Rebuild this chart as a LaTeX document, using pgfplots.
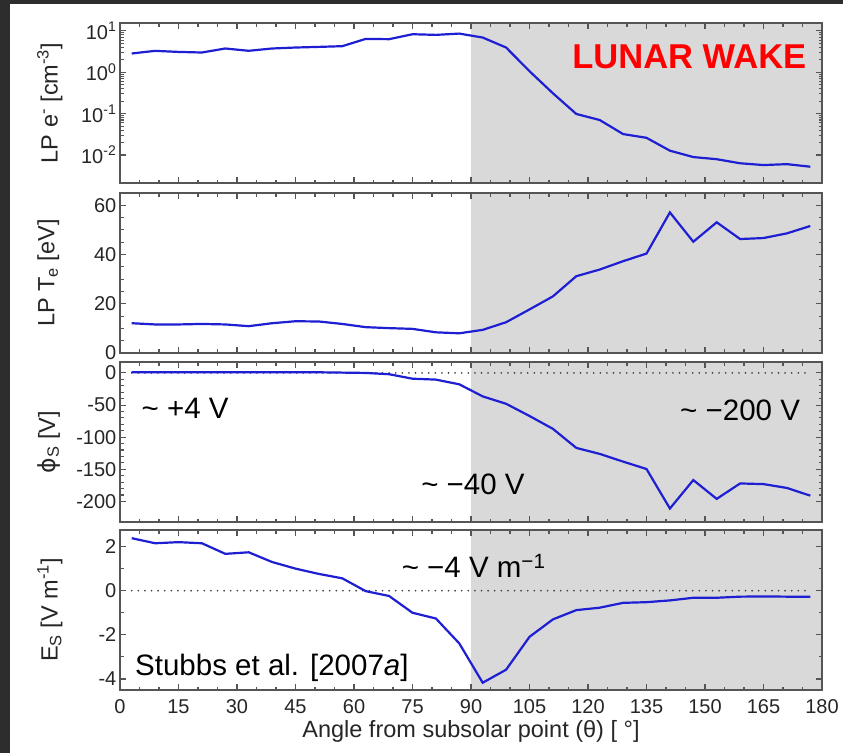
\documentclass[border=0pt]{standalone}
\usepackage{pgfplots}
\pgfplotsset{compat=1.18}
\usepackage{fontspec}
\setmainfont{Liberation Sans}
\newfontfamily\dejavu{DejaVu Sans}

\definecolor{dline}{RGB}{30,30,210}
\definecolor{frame}{RGB}{85,85,85}
\definecolor{wakegray}{RGB}{217,217,217}
\definecolor{bord}{RGB}{45,45,45}

\pgfplotstableread{
x v
3 2.84
9 3.29
15 3.1
21 3.0
27 3.75
33 3.3
39 3.75
45 3.96
51 4.1
57 4.27
63 6.4
69 6.3
75 8.3
81 8.0
87 8.6
93 6.9
99 3.96
105 1.06
111 0.31
117 0.098
123 0.070
129 0.032
135 0.026
141 0.0127
147 0.0089
153 0.0079
159 0.0063
165 0.0057
171 0.0060
177 0.0052
}\ne

\pgfplotstableread{
x v
3 12.1
9 11.6
15 11.6
21 11.8
27 11.6
33 10.9
39 12.1
45 12.9
51 12.8
57 11.8
63 10.5
69 10.1
75 9.8
81 8.4
87 8.0
93 9.4
99 12.5
105 17.7
111 23.0
117 31.2
123 33.9
129 37.3
135 40.4
141 57.1
147 45.2
153 53.1
159 46.3
165 46.7
171 48.6
177 51.6
}\te

\pgfplotstableread{
x v
3 1
9 1
15 1
21 1
27 1
33 1
39 1
45 1
51 1
57 0.5
63 0
69 -2
75 -9
81 -10.4
87 -17.7
93 -36.5
99 -48
105 -67
111 -87
117 -116.7
123 -126
129 -138
135 -149.5
141 -211
147 -166.7
153 -196
159 -172
165 -173
171 -179
177 -191
}\phis

\pgfplotstableread{
x v
3 2.38
9 2.15
15 2.2
21 2.15
27 1.67
33 1.74
39 1.30
45 1.0
51 0.76
57 0.56
63 -0.02
69 -0.24
75 -1.0
81 -1.26
87 -2.39
93 -4.17
99 -3.58
105 -2.09
111 -1.30
117 -0.88
123 -0.77
129 -0.55
135 -0.52
141 -0.44
147 -0.32
153 -0.32
159 -0.27
165 -0.26
171 -0.27
177 -0.27
}\es

\tikzset{ann/.style={font=\fontsize{29.5}{32}\selectfont, text=black, inner sep=0pt},
  zeroline/.style={black!75, line width=1.9pt, line cap=round, dash pattern=on 0pt off 6.6pt}}

\pgfplotsset{
  panel/.style={
    width=702pt, height=160pt, scale only axis,
    anchor=north west,
    xmin=0, xmax=180, xtick={0,15,...,180}, minor x tick num=2,
    axis on top,
    axis line style={frame, line width=1.3pt},
    every tick/.style={frame, line width=1.1pt},
    major tick length=6pt, minor tick length=3.5pt,
    tick align=inside, xtick pos=both, ytick pos=both,
    ticklabel style={font=\fontsize{20}{24}\selectfont, text=black!85},
    /pgf/number format/assume math mode=true,
    yticklabel style={inner xsep=3.5pt},
    xticklabel style={yshift=-6pt},
    ylabel style={font=\fontsize{23.5}{26}\selectfont, text=black!85,
      at={(axis description cs:-0.1182,0.5)}, anchor=north, inner sep=0pt},
  },
}

\begin{document}
\begin{tikzpicture}
\fill[bord] (0,0) rectangle (843pt,-753pt);
\fill[white] (10pt,-4pt) rectangle (843pt,-753pt);

% Panel 1
\begin{axis}[panel, at={(120pt,-23pt)},
  ymode=log, ymin=0.0021, ymax=15.5,
  ytick={0.01,0.1,1,10},
  yticklabels={10\textsuperscript{-2},10\textsuperscript{-1},10\textsuperscript{0},10\textsuperscript{1}},
  xticklabels={},
  ylabel={LP e\textsuperscript{-} [cm\textsuperscript{-3}]}]
  \fill[wakegray] (rel axis cs:0.5,0) rectangle (rel axis cs:1,1);
  \addplot[dline, line width=2.2pt] table[x=x,y=v] {\ne};
  \node[anchor=base east, font=\fontsize{34.5}{38}\selectfont\bfseries, text=red, inner sep=0pt] at (axis cs:176,1.23) {LUNAR WAKE};
\end{axis}

% Panel 2
\begin{axis}[panel, at={(120pt,-193pt)},
  ymin=0, ymax=65, ytick={0,20,40,60}, minor y tick num=3,
  xticklabels={},
  ylabel={LP T\textsubscript{e} [eV]}]
  \fill[wakegray] (rel axis cs:0.5,0) rectangle (rel axis cs:1,1);
  \addplot[dline, line width=2.2pt] table[x=x,y=v] {\te};
\end{axis}

% Panel 3
\begin{axis}[panel, at={(120pt,-362pt)},
  ymin=-232, ymax=17, ytick={-200,-150,-100,-50,0},
  yticklabels={-200,-150,-100,-50,0}, minor y tick num=4,
  xticklabels={},
  ylabel={{\dejavu ϕ}\textsubscript{S} [V]}]
  \fill[wakegray] (rel axis cs:0.5,0) rectangle (rel axis cs:1,1);
  \addplot[zeroline] coordinates {(3,0) (177,0)};
  \addplot[dline, line width=2.2pt] table[x=x,y=v] {\phis};
  \node[ann, anchor=base west] at (axis cs:5.5,-71) {\textasciitilde\ +4 V};
  \node[ann, anchor=base east] at (axis cs:174.4,-74) {\textasciitilde\ −200 V};
  \node[ann, anchor=base east] at (axis cs:103.8,-189.5) {\textasciitilde\ −40 V};
\end{axis}

% Panel 4
\begin{axis}[panel, at={(120pt,-530pt)},
  ymin=-4.5, ymax=2.75, ytick={-4,-2,0,2},
  yticklabels={-4,-2,0,2}, minor y tick num=1,
  xlabel={Angle from subsolar point (θ) [ °]},
  xlabel style={font=\fontsize{23.5}{26}\selectfont, text=black!85,
    at={(axis description cs:0.5,-0.29375)}, anchor=base, inner sep=0pt},
  ylabel={E\textsubscript{S} [V m\textsuperscript{-1}]}]
  \fill[wakegray] (rel axis cs:0.5,0) rectangle (rel axis cs:1,1);
  \addplot[zeroline] coordinates {(3,0) (177,0)};
  \addplot[dline, line width=2.2pt] table[x=x,y=v] {\es};
  \node[ann, anchor=base west] at (axis cs:72.2,0.61) {\textasciitilde\ −4 V m\textsuperscript{−1}};
  \node[ann, anchor=base west] at (axis cs:3.85,-3.83) {Stubbs et al. [2007\textit{a}]};
\end{axis}

\pgfresetboundingbox
\path (0,0) rectangle (843pt,-753pt);
\end{tikzpicture}
\end{document}
